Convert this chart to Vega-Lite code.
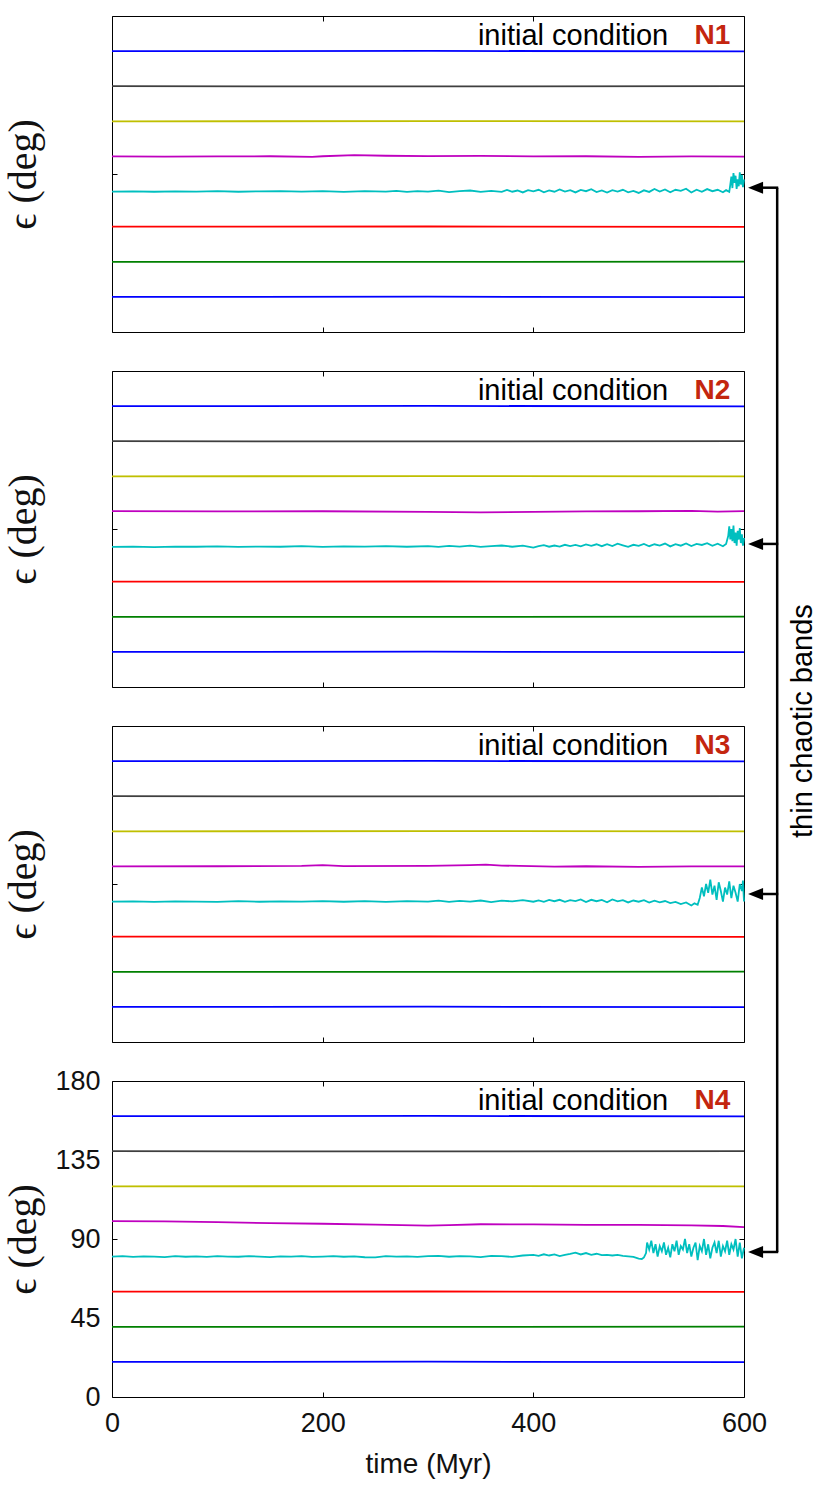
{
  "$schema": "https://vega.github.io/schema/vega-lite/v6.json",
  "padding": {"left": 3, "top": 1, "right": 5, "bottom": 5},
  "bounds": "flush",
  "spacing": 39,
  "config": {
    "view": {"stroke": "#000", "strokeWidth": 1},
    "axis": {
      "grid": false, "domain": false, "tickSize": -5, "tickColor": "#000", "tickWidth": 1,
      "labelFont": "Liberation Sans", "labelFontSize": 27, "labelColor": "#111", "labelFlush": false,
      "titleFont": "Liberation Sans", "titleFontSize": 28, "titleFontWeight": "normal", "titleColor": "#111"
    }
  },
  "datasets": {
    "lines": [
      {"p":1,"s":"b1","t":0,"e":160},{"p":1,"s":"b1","t":300,"e":160.1},{"p":1,"s":"b1","t":600,"e":159.9},
      {"p":1,"s":"k","t":0,"e":140},{"p":1,"s":"k","t":300,"e":139.9},{"p":1,"s":"k","t":600,"e":140.1},
      {"p":1,"s":"y","t":0,"e":120},{"p":1,"s":"y","t":300,"e":120.1},{"p":1,"s":"y","t":600,"e":120},
      {"p":1,"s":"r","t":0,"e":60},{"p":1,"s":"r","t":300,"e":60.1},{"p":1,"s":"r","t":600,"e":59.9},
      {"p":1,"s":"g","t":0,"e":40},{"p":1,"s":"g","t":300,"e":39.9},{"p":1,"s":"g","t":600,"e":40.1},
      {"p":1,"s":"b2","t":0,"e":20},{"p":1,"s":"b2","t":300,"e":20.1},{"p":1,"s":"b2","t":600,"e":19.9},
      {"p":1,"s":"m","t":0,"e":100},{"p":1,"s":"m","t":50,"e":99.9},{"p":1,"s":"m","t":100,"e":100},{"p":1,"s":"m","t":150,"e":100.1},{"p":1,"s":"m","t":190,"e":99.7},{"p":1,"s":"m","t":200,"e":100.1},{"p":1,"s":"m","t":230,"e":100.7},{"p":1,"s":"m","t":260,"e":100.4},{"p":1,"s":"m","t":300,"e":100.2},{"p":1,"s":"m","t":350,"e":100.3},{"p":1,"s":"m","t":400,"e":100},{"p":1,"s":"m","t":450,"e":100.1},{"p":1,"s":"m","t":500,"e":99.8},{"p":1,"s":"m","t":550,"e":100},{"p":1,"s":"m","t":600,"e":99.9},
      {"p":1,"s":"c","t":0,"e":80},{"p":1,"s":"c","t":20,"e":80.1},{"p":1,"s":"c","t":40,"e":79.9},{"p":1,"s":"c","t":60,"e":80.1},{"p":1,"s":"c","t":80,"e":80},{"p":1,"s":"c","t":100,"e":80.2},{"p":1,"s":"c","t":120,"e":79.9},{"p":1,"s":"c","t":140,"e":80.1},{"p":1,"s":"c","t":160,"e":80.3},{"p":1,"s":"c","t":180,"e":80},{"p":1,"s":"c","t":200,"e":80.2},{"p":1,"s":"c","t":220,"e":79.8},{"p":1,"s":"c","t":240,"e":80.3},{"p":1,"s":"c","t":260,"e":80},{"p":1,"s":"c","t":270,"e":80.4},{"p":1,"s":"c","t":280,"e":79.8},{"p":1,"s":"c","t":290,"e":80.2},{"p":1,"s":"c","t":300,"e":80},{"p":1,"s":"c","t":310,"e":80.5},{"p":1,"s":"c","t":320,"e":79.7},{"p":1,"s":"c","t":330,"e":80.3},{"p":1,"s":"c","t":340,"e":80.6},{"p":1,"s":"c","t":350,"e":79.8},{"p":1,"s":"c","t":360,"e":80.4},{"p":1,"s":"c","t":370,"e":79.8},{"p":1,"s":"c","t":375,"e":80.9},{"p":1,"s":"c","t":380,"e":79.9},{"p":1,"s":"c","t":385,"e":80.6},{"p":1,"s":"c","t":390,"e":79.5},{"p":1,"s":"c","t":395,"e":80.8},{"p":1,"s":"c","t":400,"e":80.1},{"p":1,"s":"c","t":405,"e":81},{"p":1,"s":"c","t":410,"e":79.6},{"p":1,"s":"c","t":415,"e":80.7},{"p":1,"s":"c","t":420,"e":79.9},{"p":1,"s":"c","t":425,"e":81.2},{"p":1,"s":"c","t":430,"e":80},{"p":1,"s":"c","t":435,"e":80.8},{"p":1,"s":"c","t":440,"e":79.5},{"p":1,"s":"c","t":445,"e":80.9},{"p":1,"s":"c","t":450,"e":80.2},{"p":1,"s":"c","t":455,"e":81.3},{"p":1,"s":"c","t":460,"e":79.7},{"p":1,"s":"c","t":465,"e":80.6},{"p":1,"s":"c","t":470,"e":79.4},{"p":1,"s":"c","t":475,"e":80.8},{"p":1,"s":"c","t":480,"e":80},{"p":1,"s":"c","t":485,"e":81},{"p":1,"s":"c","t":490,"e":79.6},{"p":1,"s":"c","t":495,"e":80.4},{"p":1,"s":"c","t":500,"e":79.2},{"p":1,"s":"c","t":505,"e":80.7},{"p":1,"s":"c","t":510,"e":79.8},{"p":1,"s":"c","t":515,"e":81.5},{"p":1,"s":"c","t":520,"e":80},{"p":1,"s":"c","t":525,"e":81.2},{"p":1,"s":"c","t":530,"e":79.6},{"p":1,"s":"c","t":535,"e":81},{"p":1,"s":"c","t":540,"e":80.4},{"p":1,"s":"c","t":545,"e":81.6},{"p":1,"s":"c","t":550,"e":79.5},{"p":1,"s":"c","t":555,"e":81.1},{"p":1,"s":"c","t":560,"e":79.9},{"p":1,"s":"c","t":565,"e":81.4},{"p":1,"s":"c","t":570,"e":80.2},{"p":1,"s":"c","t":575,"e":81},{"p":1,"s":"c","t":580,"e":79.6},{"p":1,"s":"c","t":583,"e":80.8},{"p":1,"s":"c","t":586,"e":79.8},{"p":1,"s":"c","t":587,"e":84},{"p":1,"s":"c","t":588,"e":88.5},{"p":1,"s":"c","t":589,"e":82},{"p":1,"s":"c","t":590,"e":90.5},{"p":1,"s":"c","t":591,"e":85},{"p":1,"s":"c","t":592,"e":89},{"p":1,"s":"c","t":593,"e":81.5},{"p":1,"s":"c","t":594,"e":87},{"p":1,"s":"c","t":595,"e":83},{"p":1,"s":"c","t":596,"e":91},{"p":1,"s":"c","t":597,"e":84},{"p":1,"s":"c","t":598,"e":89.5},{"p":1,"s":"c","t":599,"e":82.5},{"p":1,"s":"c","t":600,"e":87},

      {"p":2,"s":"b1","t":0,"e":160},{"p":2,"s":"b1","t":300,"e":160.1},{"p":2,"s":"b1","t":600,"e":159.9},
      {"p":2,"s":"k","t":0,"e":140},{"p":2,"s":"k","t":300,"e":139.9},{"p":2,"s":"k","t":600,"e":140.1},
      {"p":2,"s":"y","t":0,"e":120},{"p":2,"s":"y","t":300,"e":120.1},{"p":2,"s":"y","t":600,"e":120},
      {"p":2,"s":"r","t":0,"e":60},{"p":2,"s":"r","t":300,"e":60.1},{"p":2,"s":"r","t":600,"e":59.9},
      {"p":2,"s":"g","t":0,"e":40},{"p":2,"s":"g","t":300,"e":39.9},{"p":2,"s":"g","t":600,"e":40.1},
      {"p":2,"s":"b2","t":0,"e":20},{"p":2,"s":"b2","t":300,"e":20.1},{"p":2,"s":"b2","t":600,"e":19.9},
      {"p":2,"s":"m","t":0,"e":100.2},{"p":2,"s":"m","t":100,"e":100},{"p":2,"s":"m","t":200,"e":100.1},{"p":2,"s":"m","t":300,"e":99.8},{"p":2,"s":"m","t":350,"e":99.5},{"p":2,"s":"m","t":400,"e":99.7},{"p":2,"s":"m","t":450,"e":100},{"p":2,"s":"m","t":500,"e":100.1},{"p":2,"s":"m","t":550,"e":100.3},{"p":2,"s":"m","t":575,"e":99.9},{"p":2,"s":"m","t":600,"e":100.2},
      {"p":2,"s":"c","t":0,"e":79.8},{"p":2,"s":"c","t":20,"e":80},{"p":2,"s":"c","t":40,"e":79.7},{"p":2,"s":"c","t":60,"e":80},{"p":2,"s":"c","t":80,"e":79.9},{"p":2,"s":"c","t":100,"e":80.1},{"p":2,"s":"c","t":120,"e":79.8},{"p":2,"s":"c","t":140,"e":80},{"p":2,"s":"c","t":160,"e":79.9},{"p":2,"s":"c","t":180,"e":80.2},{"p":2,"s":"c","t":200,"e":79.8},{"p":2,"s":"c","t":220,"e":80.1},{"p":2,"s":"c","t":240,"e":80},{"p":2,"s":"c","t":260,"e":80.3},{"p":2,"s":"c","t":280,"e":79.9},{"p":2,"s":"c","t":300,"e":80.2},{"p":2,"s":"c","t":310,"e":79.8},{"p":2,"s":"c","t":320,"e":80.4},{"p":2,"s":"c","t":330,"e":80},{"p":2,"s":"c","t":340,"e":80.5},{"p":2,"s":"c","t":350,"e":79.8},{"p":2,"s":"c","t":360,"e":80.3},{"p":2,"s":"c","t":370,"e":80.6},{"p":2,"s":"c","t":380,"e":79.9},{"p":2,"s":"c","t":390,"e":80.5},{"p":2,"s":"c","t":400,"e":79.4},{"p":2,"s":"c","t":405,"e":80.2},{"p":2,"s":"c","t":410,"e":80.8},{"p":2,"s":"c","t":415,"e":79.9},{"p":2,"s":"c","t":420,"e":80.6},{"p":2,"s":"c","t":425,"e":80},{"p":2,"s":"c","t":430,"e":81},{"p":2,"s":"c","t":435,"e":80.3},{"p":2,"s":"c","t":440,"e":80.9},{"p":2,"s":"c","t":445,"e":80.1},{"p":2,"s":"c","t":450,"e":81.2},{"p":2,"s":"c","t":455,"e":80.4},{"p":2,"s":"c","t":460,"e":81.3},{"p":2,"s":"c","t":465,"e":80.2},{"p":2,"s":"c","t":470,"e":81.4},{"p":2,"s":"c","t":475,"e":80.3},{"p":2,"s":"c","t":480,"e":81.6},{"p":2,"s":"c","t":485,"e":80.7},{"p":2,"s":"c","t":490,"e":79.8},{"p":2,"s":"c","t":495,"e":81},{"p":2,"s":"c","t":500,"e":80.4},{"p":2,"s":"c","t":505,"e":81.5},{"p":2,"s":"c","t":510,"e":80.2},{"p":2,"s":"c","t":515,"e":81.3},{"p":2,"s":"c","t":520,"e":80.6},{"p":2,"s":"c","t":525,"e":81.7},{"p":2,"s":"c","t":530,"e":80.1},{"p":2,"s":"c","t":535,"e":81.4},{"p":2,"s":"c","t":540,"e":80.5},{"p":2,"s":"c","t":545,"e":81.8},{"p":2,"s":"c","t":550,"e":80.3},{"p":2,"s":"c","t":555,"e":81.5},{"p":2,"s":"c","t":560,"e":80.9},{"p":2,"s":"c","t":565,"e":81.9},{"p":2,"s":"c","t":570,"e":80.4},{"p":2,"s":"c","t":575,"e":81.6},{"p":2,"s":"c","t":580,"e":80.2},{"p":2,"s":"c","t":583,"e":81.5},{"p":2,"s":"c","t":585,"e":86},{"p":2,"s":"c","t":586,"e":91.5},{"p":2,"s":"c","t":587,"e":84},{"p":2,"s":"c","t":588,"e":90},{"p":2,"s":"c","t":589,"e":83},{"p":2,"s":"c","t":590,"e":92},{"p":2,"s":"c","t":591,"e":82},{"p":2,"s":"c","t":592,"e":88},{"p":2,"s":"c","t":593,"e":80.5},{"p":2,"s":"c","t":594,"e":89},{"p":2,"s":"c","t":595,"e":84},{"p":2,"s":"c","t":596,"e":90.5},{"p":2,"s":"c","t":597,"e":82},{"p":2,"s":"c","t":598,"e":87},{"p":2,"s":"c","t":599,"e":80.5},{"p":2,"s":"c","t":600,"e":85},

      {"p":3,"s":"b1","t":0,"e":160},{"p":3,"s":"b1","t":300,"e":160.1},{"p":3,"s":"b1","t":600,"e":159.9},
      {"p":3,"s":"k","t":0,"e":140},{"p":3,"s":"k","t":300,"e":139.9},{"p":3,"s":"k","t":600,"e":140.1},
      {"p":3,"s":"y","t":0,"e":120},{"p":3,"s":"y","t":300,"e":120.1},{"p":3,"s":"y","t":600,"e":120},
      {"p":3,"s":"r","t":0,"e":60},{"p":3,"s":"r","t":300,"e":60.1},{"p":3,"s":"r","t":600,"e":59.9},
      {"p":3,"s":"g","t":0,"e":40},{"p":3,"s":"g","t":300,"e":39.9},{"p":3,"s":"g","t":600,"e":40.1},
      {"p":3,"s":"b2","t":0,"e":20},{"p":3,"s":"b2","t":300,"e":20.1},{"p":3,"s":"b2","t":600,"e":19.9},
      {"p":3,"s":"m","t":0,"e":100},{"p":3,"s":"m","t":100,"e":100.1},{"p":3,"s":"m","t":180,"e":100.3},{"p":3,"s":"m","t":200,"e":100.8},{"p":3,"s":"m","t":220,"e":100.2},{"p":3,"s":"m","t":300,"e":100.3},{"p":3,"s":"m","t":340,"e":100.7},{"p":3,"s":"m","t":355,"e":101},{"p":3,"s":"m","t":370,"e":100.5},{"p":3,"s":"m","t":420,"e":99.9},{"p":3,"s":"m","t":450,"e":100.1},{"p":3,"s":"m","t":500,"e":99.7},{"p":3,"s":"m","t":550,"e":100},{"p":3,"s":"m","t":600,"e":100},
      {"p":3,"s":"c","t":0,"e":80},{"p":3,"s":"c","t":20,"e":80.1},{"p":3,"s":"c","t":40,"e":79.8},{"p":3,"s":"c","t":60,"e":80.1},{"p":3,"s":"c","t":80,"e":80},{"p":3,"s":"c","t":100,"e":79.8},{"p":3,"s":"c","t":120,"e":80.2},{"p":3,"s":"c","t":140,"e":79.9},{"p":3,"s":"c","t":160,"e":80.1},{"p":3,"s":"c","t":180,"e":80},{"p":3,"s":"c","t":200,"e":80.3},{"p":3,"s":"c","t":220,"e":79.9},{"p":3,"s":"c","t":240,"e":80.2},{"p":3,"s":"c","t":260,"e":79.8},{"p":3,"s":"c","t":280,"e":80.3},{"p":3,"s":"c","t":300,"e":80},{"p":3,"s":"c","t":310,"e":80.5},{"p":3,"s":"c","t":320,"e":79.8},{"p":3,"s":"c","t":330,"e":80.4},{"p":3,"s":"c","t":340,"e":80},{"p":3,"s":"c","t":350,"e":80.6},{"p":3,"s":"c","t":360,"e":79.7},{"p":3,"s":"c","t":370,"e":80.5},{"p":3,"s":"c","t":380,"e":80.1},{"p":3,"s":"c","t":390,"e":80.8},{"p":3,"s":"c","t":400,"e":79.9},{"p":3,"s":"c","t":405,"e":80.7},{"p":3,"s":"c","t":410,"e":79.8},{"p":3,"s":"c","t":415,"e":80.9},{"p":3,"s":"c","t":420,"e":80.2},{"p":3,"s":"c","t":425,"e":81},{"p":3,"s":"c","t":430,"e":79.8},{"p":3,"s":"c","t":435,"e":80.8},{"p":3,"s":"c","t":440,"e":80.3},{"p":3,"s":"c","t":445,"e":81.2},{"p":3,"s":"c","t":450,"e":79.7},{"p":3,"s":"c","t":455,"e":81},{"p":3,"s":"c","t":460,"e":80.2},{"p":3,"s":"c","t":465,"e":80.9},{"p":3,"s":"c","t":470,"e":79.6},{"p":3,"s":"c","t":475,"e":81.2},{"p":3,"s":"c","t":480,"e":80.1},{"p":3,"s":"c","t":485,"e":80.8},{"p":3,"s":"c","t":490,"e":79.5},{"p":3,"s":"c","t":495,"e":80.6},{"p":3,"s":"c","t":500,"e":79.9},{"p":3,"s":"c","t":505,"e":80.8},{"p":3,"s":"c","t":510,"e":79.4},{"p":3,"s":"c","t":515,"e":80.5},{"p":3,"s":"c","t":520,"e":79.6},{"p":3,"s":"c","t":525,"e":80.3},{"p":3,"s":"c","t":530,"e":79.1},{"p":3,"s":"c","t":535,"e":79.8},{"p":3,"s":"c","t":540,"e":78.6},{"p":3,"s":"c","t":545,"e":79.5},{"p":3,"s":"c","t":550,"e":77.8},{"p":3,"s":"c","t":553,"e":79},{"p":3,"s":"c","t":556,"e":78.2},{"p":3,"s":"c","t":558,"e":82},{"p":3,"s":"c","t":560,"e":88},{"p":3,"s":"c","t":562,"e":83},{"p":3,"s":"c","t":564,"e":90},{"p":3,"s":"c","t":566,"e":85},{"p":3,"s":"c","t":568,"e":92.5},{"p":3,"s":"c","t":570,"e":84},{"p":3,"s":"c","t":572,"e":89},{"p":3,"s":"c","t":574,"e":81},{"p":3,"s":"c","t":576,"e":91},{"p":3,"s":"c","t":578,"e":86},{"p":3,"s":"c","t":580,"e":80},{"p":3,"s":"c","t":582,"e":88},{"p":3,"s":"c","t":584,"e":84},{"p":3,"s":"c","t":586,"e":91.5},{"p":3,"s":"c","t":588,"e":82},{"p":3,"s":"c","t":590,"e":89},{"p":3,"s":"c","t":592,"e":85},{"p":3,"s":"c","t":594,"e":80},{"p":3,"s":"c","t":596,"e":90},{"p":3,"s":"c","t":598,"e":86},{"p":3,"s":"c","t":599,"e":92},{"p":3,"s":"c","t":600,"e":80},

      {"p":4,"s":"b1","t":0,"e":160},{"p":4,"s":"b1","t":300,"e":160.1},{"p":4,"s":"b1","t":600,"e":159.9},
      {"p":4,"s":"k","t":0,"e":140},{"p":4,"s":"k","t":300,"e":139.9},{"p":4,"s":"k","t":600,"e":140.1},
      {"p":4,"s":"y","t":0,"e":120},{"p":4,"s":"y","t":300,"e":120.1},{"p":4,"s":"y","t":600,"e":120},
      {"p":4,"s":"r","t":0,"e":60},{"p":4,"s":"r","t":300,"e":60.1},{"p":4,"s":"r","t":600,"e":59.9},
      {"p":4,"s":"g","t":0,"e":40},{"p":4,"s":"g","t":300,"e":39.9},{"p":4,"s":"g","t":600,"e":40.1},
      {"p":4,"s":"b2","t":0,"e":20},{"p":4,"s":"b2","t":300,"e":20.1},{"p":4,"s":"b2","t":600,"e":19.9},
      {"p":4,"s":"m","t":0,"e":100.2},{"p":4,"s":"m","t":50,"e":100},{"p":4,"s":"m","t":100,"e":99.6},{"p":4,"s":"m","t":150,"e":99},{"p":4,"s":"m","t":200,"e":98.7},{"p":4,"s":"m","t":250,"e":98.2},{"p":4,"s":"m","t":300,"e":97.6},{"p":4,"s":"m","t":320,"e":97.9},{"p":4,"s":"m","t":350,"e":98.4},{"p":4,"s":"m","t":400,"e":98.3},{"p":4,"s":"m","t":450,"e":98.1},{"p":4,"s":"m","t":500,"e":98},{"p":4,"s":"m","t":550,"e":97.8},{"p":4,"s":"m","t":580,"e":97.4},{"p":4,"s":"m","t":600,"e":96.8},
      {"p":4,"s":"c","t":0,"e":80},{"p":4,"s":"c","t":10,"e":80.2},{"p":4,"s":"c","t":20,"e":79.8},{"p":4,"s":"c","t":30,"e":80.1},{"p":4,"s":"c","t":40,"e":80},{"p":4,"s":"c","t":50,"e":79.7},{"p":4,"s":"c","t":60,"e":80.2},{"p":4,"s":"c","t":70,"e":79.9},{"p":4,"s":"c","t":80,"e":80.1},{"p":4,"s":"c","t":90,"e":79.8},{"p":4,"s":"c","t":100,"e":80.2},{"p":4,"s":"c","t":110,"e":80},{"p":4,"s":"c","t":120,"e":79.9},{"p":4,"s":"c","t":130,"e":80.3},{"p":4,"s":"c","t":140,"e":80},{"p":4,"s":"c","t":150,"e":79.7},{"p":4,"s":"c","t":160,"e":80.1},{"p":4,"s":"c","t":170,"e":80},{"p":4,"s":"c","t":180,"e":80.2},{"p":4,"s":"c","t":190,"e":79.8},{"p":4,"s":"c","t":200,"e":80},{"p":4,"s":"c","t":210,"e":80.3},{"p":4,"s":"c","t":220,"e":79.9},{"p":4,"s":"c","t":230,"e":80.1},{"p":4,"s":"c","t":240,"e":79.6},{"p":4,"s":"c","t":250,"e":79.5},{"p":4,"s":"c","t":260,"e":80.2},{"p":4,"s":"c","t":270,"e":80},{"p":4,"s":"c","t":280,"e":80.1},{"p":4,"s":"c","t":290,"e":79.8},{"p":4,"s":"c","t":300,"e":80.2},{"p":4,"s":"c","t":310,"e":80.4},{"p":4,"s":"c","t":320,"e":79.9},{"p":4,"s":"c","t":330,"e":80.3},{"p":4,"s":"c","t":340,"e":80.1},{"p":4,"s":"c","t":350,"e":79.7},{"p":4,"s":"c","t":360,"e":80.4},{"p":4,"s":"c","t":370,"e":80.2},{"p":4,"s":"c","t":380,"e":79.8},{"p":4,"s":"c","t":390,"e":80.6},{"p":4,"s":"c","t":400,"e":81},{"p":4,"s":"c","t":405,"e":80.4},{"p":4,"s":"c","t":410,"e":81.3},{"p":4,"s":"c","t":415,"e":80.6},{"p":4,"s":"c","t":420,"e":81.2},{"p":4,"s":"c","t":425,"e":80.3},{"p":4,"s":"c","t":430,"e":80.9},{"p":4,"s":"c","t":435,"e":81.5},{"p":4,"s":"c","t":440,"e":82.2},{"p":4,"s":"c","t":445,"e":81.2},{"p":4,"s":"c","t":450,"e":82},{"p":4,"s":"c","t":455,"e":81},{"p":4,"s":"c","t":460,"e":81.6},{"p":4,"s":"c","t":465,"e":80.8},{"p":4,"s":"c","t":470,"e":81},{"p":4,"s":"c","t":475,"e":80.6},{"p":4,"s":"c","t":480,"e":80.9},{"p":4,"s":"c","t":485,"e":80.4},{"p":4,"s":"c","t":490,"e":80.1},{"p":4,"s":"c","t":495,"e":79.8},{"p":4,"s":"c","t":500,"e":78.8},{"p":4,"s":"c","t":503,"e":78.6},{"p":4,"s":"c","t":505,"e":79.5},{"p":4,"s":"c","t":507,"e":82},{"p":4,"s":"c","t":508,"e":88},{"p":4,"s":"c","t":510,"e":84},{"p":4,"s":"c","t":512,"e":89},{"p":4,"s":"c","t":514,"e":82},{"p":4,"s":"c","t":516,"e":87},{"p":4,"s":"c","t":518,"e":80},{"p":4,"s":"c","t":520,"e":86},{"p":4,"s":"c","t":522,"e":83},{"p":4,"s":"c","t":524,"e":88},{"p":4,"s":"c","t":526,"e":81},{"p":4,"s":"c","t":528,"e":85},{"p":4,"s":"c","t":530,"e":79.5},{"p":4,"s":"c","t":532,"e":87},{"p":4,"s":"c","t":534,"e":83},{"p":4,"s":"c","t":536,"e":89},{"p":4,"s":"c","t":538,"e":81},{"p":4,"s":"c","t":540,"e":86},{"p":4,"s":"c","t":542,"e":84},{"p":4,"s":"c","t":544,"e":90},{"p":4,"s":"c","t":546,"e":82},{"p":4,"s":"c","t":548,"e":87},{"p":4,"s":"c","t":550,"e":80},{"p":4,"s":"c","t":552,"e":85},{"p":4,"s":"c","t":554,"e":88},{"p":4,"s":"c","t":556,"e":78},{"p":4,"s":"c","t":558,"e":86},{"p":4,"s":"c","t":560,"e":83},{"p":4,"s":"c","t":562,"e":90},{"p":4,"s":"c","t":564,"e":81},{"p":4,"s":"c","t":566,"e":87},{"p":4,"s":"c","t":568,"e":79},{"p":4,"s":"c","t":570,"e":85},{"p":4,"s":"c","t":572,"e":88},{"p":4,"s":"c","t":574,"e":82},{"p":4,"s":"c","t":576,"e":89},{"p":4,"s":"c","t":578,"e":80},{"p":4,"s":"c","t":580,"e":86},{"p":4,"s":"c","t":582,"e":83},{"p":4,"s":"c","t":584,"e":89},{"p":4,"s":"c","t":586,"e":81},{"p":4,"s":"c","t":588,"e":87},{"p":4,"s":"c","t":590,"e":84},{"p":4,"s":"c","t":592,"e":90},{"p":4,"s":"c","t":594,"e":80},{"p":4,"s":"c","t":596,"e":88},{"p":4,"s":"c","t":598,"e":79},{"p":4,"s":"c","t":600,"e":85}
    ],
    "ann": [
      {"p":1,"label":"N1","ay":82.2},
      {"p":2,"label":"N2","ay":81.5},
      {"p":3,"label":"N3","ay":84.3},
      {"p":4,"label":"N4","ay":82.6}
    ],
    "vline": [{"t":631.5,"e1":82.6,"e2":688.8}],
    "side": [{"t":664.6,"e":182.8,"label":"thin chaotic bands"}]
  },
  "vconcat": [
    {
      "width": 632, "height": 316,
      "layer": [
        {"data": {"name": "lines"}, "transform": [{"filter": "datum.p == 1"}],
         "mark": {"type": "line", "strokeWidth": 1.8},
         "encoding": {
           "x": {"field": "t", "type": "quantitative", "scale": {"domain": [0, 600], "nice": false}, "axis": {"orient": "bottom", "values": [0, 200, 400, 600], "labels": false, "title": null}},
           "y": {"field": "e", "type": "quantitative", "scale": {"domain": [0, 180], "nice": false}, "axis": {"orient": "left", "values": [0, 45, 90, 135, 180], "labelOpacity": 0, "labelPadding": 17, "tickOpacity": {"condition": {"test": "datum.value == 90", "value": 1}, "value": 0}, "title": "ϵ (deg)", "titleFont": "Liberation Serif", "titleFontSize": 40, "titlePadding": 11}},
           "color": {"field": "s", "type": "nominal", "legend": null, "scale": {"domain": ["b1","k","y","m","c","r","g","b2"], "range": ["#0000ff","#3f3f3f","#bfbf00","#bf00bf","#00bfbf","#ff0000","#008000","#0000ff"]}}
         }},
        {"data": {"name": "ann"}, "transform": [{"filter": "datum.p == 1"}],
         "mark": {"type": "text", "align": "right", "baseline": "middle", "font": "Liberation Sans", "fontSize": 29, "color": "#000"},
         "encoding": {
           "x": {"datum": 528, "type": "quantitative", "scale": {"domain": [0, 600], "nice": false}, "axis": {"orient": "top", "values": [0, 200, 400, 600], "labels": false, "title": null}},
           "y": {"datum": 168.5, "type": "quantitative", "scale": {"domain": [0, 180], "nice": false}, "axis": {"orient": "right", "values": [0, 45, 90, 135, 180], "labels": false, "title": null, "tickOpacity": {"condition": {"test": "datum.value == 90", "value": 1}, "value": 0}}},
           "text": {"value": "initial condition"}
         }},
        {"data": {"name": "ann"}, "transform": [{"filter": "datum.p == 1"}],
         "mark": {"type": "text", "align": "left", "baseline": "middle", "font": "Liberation Sans", "fontSize": 28, "fontWeight": "bold", "color": "#c4260f"},
         "encoding": {
           "x": {"datum": 553, "type": "quantitative", "axis": null},
           "y": {"datum": 168.5, "type": "quantitative", "axis": null},
           "text": {"field": "label"}
         }},
        {"data": {"name": "ann"}, "transform": [{"filter": "datum.p == 1"}],
         "mark": {"type": "rule", "strokeWidth": 2.5, "color": "#000"},
         "encoding": {
           "x": {"datum": 616, "type": "quantitative", "axis": null},
           "x2": {"datum": 632.5},
           "y": {"field": "ay", "type": "quantitative", "axis": null}
         }},
        {"data": {"name": "ann"}, "transform": [{"filter": "datum.p == 1"}],
         "mark": {"type": "point", "shape": "M -1 0 L 1 -0.8 L 1 0.8 Z", "filled": true, "color": "#000", "opacity": 1, "size": 225},
         "encoding": {
           "x": {"datum": 611, "type": "quantitative", "axis": null},
           "y": {"field": "ay", "type": "quantitative", "axis": null}
         }}
      ]
    },
    {
      "width": 632, "height": 316,
      "layer": [
        {"data": {"name": "lines"}, "transform": [{"filter": "datum.p == 2"}],
         "mark": {"type": "line", "strokeWidth": 1.8},
         "encoding": {
           "x": {"field": "t", "type": "quantitative", "scale": {"domain": [0, 600], "nice": false}, "axis": {"orient": "bottom", "values": [0, 200, 400, 600], "labels": false, "title": null}},
           "y": {"field": "e", "type": "quantitative", "scale": {"domain": [0, 180], "nice": false}, "axis": {"orient": "left", "values": [0, 45, 90, 135, 180], "labelOpacity": 0, "labelPadding": 17, "tickOpacity": {"condition": {"test": "datum.value == 90", "value": 1}, "value": 0}, "title": "ϵ (deg)", "titleFont": "Liberation Serif", "titleFontSize": 40, "titlePadding": 11}},
           "color": {"field": "s", "type": "nominal", "legend": null, "scale": {"domain": ["b1","k","y","m","c","r","g","b2"], "range": ["#0000ff","#3f3f3f","#bfbf00","#bf00bf","#00bfbf","#ff0000","#008000","#0000ff"]}}
         }},
        {"data": {"name": "ann"}, "transform": [{"filter": "datum.p == 2"}],
         "mark": {"type": "text", "align": "right", "baseline": "middle", "font": "Liberation Sans", "fontSize": 29, "color": "#000"},
         "encoding": {
           "x": {"datum": 528, "type": "quantitative", "scale": {"domain": [0, 600], "nice": false}, "axis": {"orient": "top", "values": [0, 200, 400, 600], "labels": false, "title": null}},
           "y": {"datum": 168.5, "type": "quantitative", "scale": {"domain": [0, 180], "nice": false}, "axis": {"orient": "right", "values": [0, 45, 90, 135, 180], "labels": false, "title": null, "tickOpacity": {"condition": {"test": "datum.value == 90", "value": 1}, "value": 0}}},
           "text": {"value": "initial condition"}
         }},
        {"data": {"name": "ann"}, "transform": [{"filter": "datum.p == 2"}],
         "mark": {"type": "text", "align": "left", "baseline": "middle", "font": "Liberation Sans", "fontSize": 28, "fontWeight": "bold", "color": "#c4260f"},
         "encoding": {
           "x": {"datum": 553, "type": "quantitative", "axis": null},
           "y": {"datum": 168.5, "type": "quantitative", "axis": null},
           "text": {"field": "label"}
         }},
        {"data": {"name": "ann"}, "transform": [{"filter": "datum.p == 2"}],
         "mark": {"type": "rule", "strokeWidth": 2.5, "color": "#000"},
         "encoding": {
           "x": {"datum": 616, "type": "quantitative", "axis": null},
           "x2": {"datum": 632.5},
           "y": {"field": "ay", "type": "quantitative", "axis": null}
         }},
        {"data": {"name": "ann"}, "transform": [{"filter": "datum.p == 2"}],
         "mark": {"type": "point", "shape": "M -1 0 L 1 -0.8 L 1 0.8 Z", "filled": true, "color": "#000", "opacity": 1, "size": 225},
         "encoding": {
           "x": {"datum": 611, "type": "quantitative", "axis": null},
           "y": {"field": "ay", "type": "quantitative", "axis": null}
         }}
      ]
    },
    {
      "width": 632, "height": 316,
      "layer": [
        {"data": {"name": "lines"}, "transform": [{"filter": "datum.p == 3"}],
         "mark": {"type": "line", "strokeWidth": 1.8},
         "encoding": {
           "x": {"field": "t", "type": "quantitative", "scale": {"domain": [0, 600], "nice": false}, "axis": {"orient": "bottom", "values": [0, 200, 400, 600], "labels": false, "title": null}},
           "y": {"field": "e", "type": "quantitative", "scale": {"domain": [0, 180], "nice": false}, "axis": {"orient": "left", "values": [0, 45, 90, 135, 180], "labelOpacity": 0, "labelPadding": 17, "tickOpacity": {"condition": {"test": "datum.value == 90", "value": 1}, "value": 0}, "title": "ϵ (deg)", "titleFont": "Liberation Serif", "titleFontSize": 40, "titlePadding": 11}},
           "color": {"field": "s", "type": "nominal", "legend": null, "scale": {"domain": ["b1","k","y","m","c","r","g","b2"], "range": ["#0000ff","#3f3f3f","#bfbf00","#bf00bf","#00bfbf","#ff0000","#008000","#0000ff"]}}
         }},
        {"data": {"name": "ann"}, "transform": [{"filter": "datum.p == 3"}],
         "mark": {"type": "text", "align": "right", "baseline": "middle", "font": "Liberation Sans", "fontSize": 29, "color": "#000"},
         "encoding": {
           "x": {"datum": 528, "type": "quantitative", "scale": {"domain": [0, 600], "nice": false}, "axis": {"orient": "top", "values": [0, 200, 400, 600], "labels": false, "title": null}},
           "y": {"datum": 168.5, "type": "quantitative", "scale": {"domain": [0, 180], "nice": false}, "axis": {"orient": "right", "values": [0, 45, 90, 135, 180], "labels": false, "title": null, "tickOpacity": {"condition": {"test": "datum.value == 90", "value": 1}, "value": 0}}},
           "text": {"value": "initial condition"}
         }},
        {"data": {"name": "ann"}, "transform": [{"filter": "datum.p == 3"}],
         "mark": {"type": "text", "align": "left", "baseline": "middle", "font": "Liberation Sans", "fontSize": 28, "fontWeight": "bold", "color": "#c4260f"},
         "encoding": {
           "x": {"datum": 553, "type": "quantitative", "axis": null},
           "y": {"datum": 168.5, "type": "quantitative", "axis": null},
           "text": {"field": "label"}
         }},
        {"data": {"name": "ann"}, "transform": [{"filter": "datum.p == 3"}],
         "mark": {"type": "rule", "strokeWidth": 2.5, "color": "#000"},
         "encoding": {
           "x": {"datum": 616, "type": "quantitative", "axis": null},
           "x2": {"datum": 632.5},
           "y": {"field": "ay", "type": "quantitative", "axis": null}
         }},
        {"data": {"name": "ann"}, "transform": [{"filter": "datum.p == 3"}],
         "mark": {"type": "point", "shape": "M -1 0 L 1 -0.8 L 1 0.8 Z", "filled": true, "color": "#000", "opacity": 1, "size": 225},
         "encoding": {
           "x": {"datum": 611, "type": "quantitative", "axis": null},
           "y": {"field": "ay", "type": "quantitative", "axis": null}
         }},
        {"data": {"name": "side"},
         "mark": {"type": "text", "angle": 270, "align": "center", "baseline": "alphabetic", "font": "Liberation Sans", "fontSize": 29, "color": "#000"},
         "encoding": {
           "x": {"field": "t", "type": "quantitative", "axis": null},
           "y": {"field": "e", "type": "quantitative", "axis": null},
           "text": {"field": "label"}
         }}
      ]
    },
    {
      "width": 632, "height": 316,
      "layer": [
        {"data": {"name": "lines"}, "transform": [{"filter": "datum.p == 4"}],
         "mark": {"type": "line", "strokeWidth": 1.8},
         "encoding": {
           "x": {"field": "t", "type": "quantitative", "scale": {"domain": [0, 600], "nice": false}, "axis": {"orient": "bottom", "values": [0, 200, 400, 600], "labelPadding": 18, "labelFlush": false, "title": "time (Myr)", "titlePadding": 14}},
           "y": {"field": "e", "type": "quantitative", "scale": {"domain": [0, 180], "nice": false}, "axis": {"orient": "left", "values": [0, 45, 90, 135, 180], "labelPadding": 17, "tickOpacity": {"condition": {"test": "datum.value == 90", "value": 1}, "value": 0}, "title": "ϵ (deg)", "titleFont": "Liberation Serif", "titleFontSize": 40, "titlePadding": 11}},
           "color": {"field": "s", "type": "nominal", "legend": null, "scale": {"domain": ["b1","k","y","m","c","r","g","b2"], "range": ["#0000ff","#3f3f3f","#bfbf00","#bf00bf","#00bfbf","#ff0000","#008000","#0000ff"]}}
         }},
        {"data": {"name": "ann"}, "transform": [{"filter": "datum.p == 4"}],
         "mark": {"type": "text", "align": "right", "baseline": "middle", "font": "Liberation Sans", "fontSize": 29, "color": "#000"},
         "encoding": {
           "x": {"datum": 528, "type": "quantitative", "scale": {"domain": [0, 600], "nice": false}, "axis": {"orient": "top", "values": [0, 200, 400, 600], "labels": false, "title": null}},
           "y": {"datum": 168.5, "type": "quantitative", "scale": {"domain": [0, 180], "nice": false}, "axis": {"orient": "right", "values": [0, 45, 90, 135, 180], "labels": false, "title": null, "tickOpacity": {"condition": {"test": "datum.value == 90", "value": 1}, "value": 0}}},
           "text": {"value": "initial condition"}
         }},
        {"data": {"name": "ann"}, "transform": [{"filter": "datum.p == 4"}],
         "mark": {"type": "text", "align": "left", "baseline": "middle", "font": "Liberation Sans", "fontSize": 28, "fontWeight": "bold", "color": "#c4260f"},
         "encoding": {
           "x": {"datum": 553, "type": "quantitative", "axis": null},
           "y": {"datum": 168.5, "type": "quantitative", "axis": null},
           "text": {"field": "label"}
         }},
        {"data": {"name": "ann"}, "transform": [{"filter": "datum.p == 4"}],
         "mark": {"type": "rule", "strokeWidth": 2.5, "color": "#000"},
         "encoding": {
           "x": {"datum": 616, "type": "quantitative", "axis": null},
           "x2": {"datum": 632.5},
           "y": {"field": "ay", "type": "quantitative", "axis": null}
         }},
        {"data": {"name": "ann"}, "transform": [{"filter": "datum.p == 4"}],
         "mark": {"type": "point", "shape": "M -1 0 L 1 -0.8 L 1 0.8 Z", "filled": true, "color": "#000", "opacity": 1, "size": 225},
         "encoding": {
           "x": {"datum": 611, "type": "quantitative", "axis": null},
           "y": {"field": "ay", "type": "quantitative", "axis": null}
         }},
        {"data": {"name": "vline"},
         "mark": {"type": "rule", "strokeWidth": 2.5, "color": "#000"},
         "encoding": {
           "x": {"field": "t", "type": "quantitative", "axis": null},
           "y": {"field": "e1", "type": "quantitative", "axis": null},
           "y2": {"field": "e2"}
         }}
      ]
    }
  ]
}
